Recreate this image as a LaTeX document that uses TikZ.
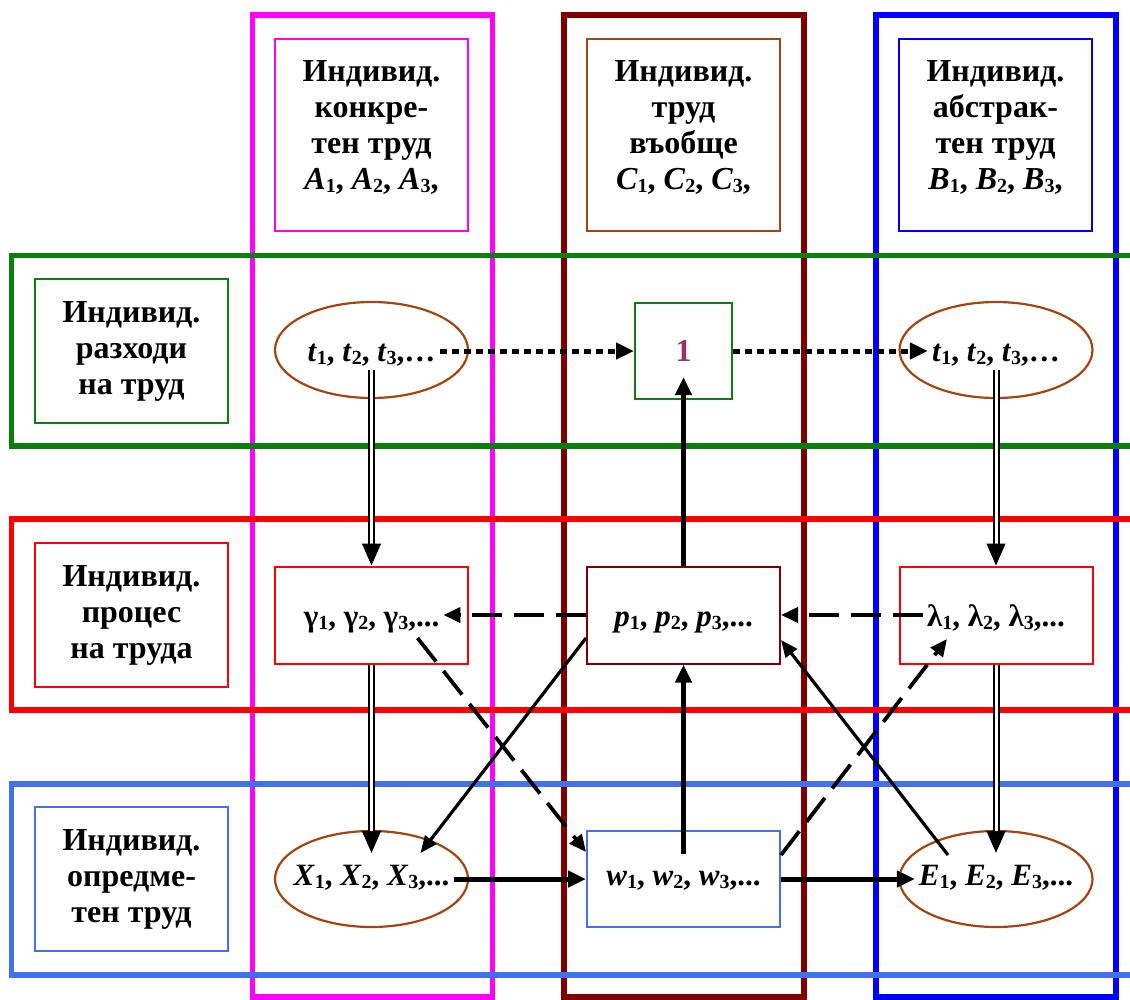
\documentclass[tikz,border=0pt]{standalone}
\usepackage{fontspec}
\setmainfont{Liberation Serif}
\usetikzlibrary{arrows.meta,shapes.geometric}

\definecolor{cMag}{HTML}{FF00FF}
\definecolor{cMar}{HTML}{800000}
\definecolor{cBlu}{HTML}{0000FF}
\definecolor{cGrn}{HTML}{0A800A}
\definecolor{cRed}{HTML}{FF0000}
\definecolor{cSky}{HTML}{4170F0}
\definecolor{cBrn}{HTML}{A4440E}
\definecolor{cOne}{HTML}{993366}

% subscript index and an italic variable with its index
\newcommand\sbs[1]{\raisebox{-0.12em}{\fontsize{20}{20}\selectfont\upshape #1}}
\newcommand\vv[2]{\textit{#1}\sbs{#2}}

\begin{document}
\begin{tikzpicture}[x=1pt,y=-1pt,
  band/.style={line width=5.6pt},
  box/.style={draw, line width=2pt, inner sep=0pt, minimum width=193pt},
  hdr/.style={box, minimum height=192pt},
  rowlab/.style={box, minimum height=144pt, font=\fontsize{32}{36}\selectfont\bfseries, align=center},
  cell/.style={box, minimum height=97pt},
  oval/.style={ellipse, draw=cBrn, line width=2.2pt, minimum width=193pt, minimum height=96pt, inner sep=0pt},
  lab/.style={font=\fontsize{32}{36}\selectfont\bfseries, align=center, inner sep=0pt},
  val/.style={font=\fontsize{31}{36}\selectfont\bfseries, inner sep=4pt, anchor=base},
  tip/.style={-{Triangle[width=16pt,length=18pt]}},
  heavy/.style={tip, line width=5pt},
  dotarrow/.style={tip, line width=5pt, dash pattern=on 7pt off 5pt},
  dasharrow/.style={-{Triangle[width=15pt,length=17pt]}, line width=3.8pt, dash pattern=on 30pt off 12pt},
  thinarrow/.style={-{Triangle[width=14pt,length=17pt]}, line width=3.2pt},
  dbl/.style={double, line width=2pt, double distance=3pt, shorten >=20pt},
  dbltip/.style={-{Triangle[width=19pt,length=22pt]}, line width=1pt},
]
\useasboundingbox (0,0) rectangle (1130,999);

% columns
\draw[band, cMag] (252.5,15) rectangle (492.5,997);
\draw[band, cMar] (564,15) rectangle (804,997);
\draw[band, cBlu] (876,15) rectangle (1116,997);
% rows
\draw[band, cGrn] (11.5,255.5) rectangle (1145,446);
\draw[band, cRed] (11.5,519) rectangle (1145,710);
\draw[band, cSky] (11.5,784) rectangle (1145,975);

% column headers
\node[hdr, draw=cMag] (hA) at (371.5,135) {};
\node[lab] (hAt) at (371.5,127) {Индивид.\\конкре-\\тен труд\\\vv{A}{1}, \vv{A}{2}, \vv{A}{3},};
\node[hdr, draw=cBrn] (hC) at (683.5,135) {};
\node[lab] (hCt) at (683.5,127) {Индивид.\\труд\\въобще\\\vv{C}{1}, \vv{C}{2}, \vv{C}{3},};
\node[hdr, draw=cBlu] (hB) at (995.5,135) {};
\node[lab] (hBt) at (995.5,127) {Индивид.\\абстрак-\\тен труд\\\vv{B}{1}, \vv{B}{2}, \vv{B}{3},};

% row labels
\node[rowlab, draw=cGrn] (rG) at (131.5,351) {Индивид.\\разходи\\на труд};
\node[rowlab, draw=cRed] (rR) at (131.5,615) {Индивид.\\процес\\на труда};
\node[rowlab, draw=cSky] (rB) at (131.5,879) {Индивид.\\опредме-\\тен труд};

% first row
\node[oval] (tL) at (371.5,350) {};
\node[val] (tLt) at (371.5,361) {\vv{t}{1}, \vv{t}{2}, \vv{t}{3},…};
\node[box, draw=cGrn, minimum width=97pt, minimum height=96pt,
      font=\fontsize{32}{36}\selectfont\bfseries, text=cOne] (one) at (683.5,351) {1};
\node[oval] (tR) at (996,350) {};
\node[val] (tRt) at (996,361) {\vv{t}{1}, \vv{t}{2}, \vv{t}{3},…};

% second row
\node[cell, draw=cRed] (g) at (371.5,615) {};
\node[val] (gt) at (371.5,626) {γ\sbs{1}, γ\sbs{2}, γ\sbs{3},...};
\node[cell, draw=cMar] (p) at (683.5,615) {};
\node[val] (pt) at (683.5,626) {\vv{p}{1}, \vv{p}{2}, \vv{p}{3},...};
\node[cell, draw=cRed] (l) at (996,615) {};
\node[val] (lt) at (996,626) {λ\sbs{1}, λ\sbs{2}, λ\sbs{3},...};

% third row
\node[oval] (X) at (371.5,879) {};
\node[val] (Xt) at (371.5,885) {\vv{X}{1}, \vv{X}{2}, \vv{X}{3},...};
\node[cell, draw=cSky, minimum height=96pt] (w) at (683.5,879) {};
\node[val] (wt) at (683.5,885) {\vv{w}{1}, \vv{w}{2}, \vv{w}{3},...};
\node[oval] (E) at (996,879) {};
\node[val] (Et) at (996,885) {\vv{E}{1}, \vv{E}{2}, \vv{E}{3},...};

% inner end points of connectors
\coordinate (oneIn) at ([yshift=23pt]one.south);
\coordinate (wIn) at ([yshift=-24pt]w.north);
\coordinate (XIn) at ([yshift=-23pt]X.north);
\coordinate (EIn) at ([yshift=-23pt]E.north);
\coordinate (gA) at ([shift={(46pt,-23pt)}]g.center);
\coordinate (wA) at ([yshift=27pt]w.west);
\coordinate (pA) at ([yshift=-23pt]p.west);
\coordinate (XA) at ([shift={(49pt,26pt)}]X.center);
\coordinate (wB) at ([yshift=24pt]w.east);
\coordinate (lA) at ([shift={(-49pt,-24pt)}]l.center);
\coordinate (EA) at ([shift={(-48pt,24pt)}]E.center);
\coordinate (pB) at ([yshift=-25pt]p.east);

% dotted arrows through the unit box
\draw[dotarrow] (tLt.east |- one.west) -- (one.west);
\draw[dotarrow] (one.east) -- (one.east -| tRt.west);

% double vertical arrows
\draw[dbl] (tLt.south) -- (g.north);
\draw[dbltip] ([yshift=22pt]g.north) -- (g.north);
\draw[dbl] (tRt.south) -- (l.north);
\draw[dbltip] ([yshift=22pt]l.north) -- (l.north);
\draw[dbl] (g.south) -- (XIn);
\draw[dbltip] ([yshift=22pt]XIn) -- (XIn);
\draw[dbl] (l.south) -- (EIn);
\draw[dbltip] ([yshift=22pt]EIn) -- (EIn);

% central column
\draw[heavy] (p.north) -- (oneIn);
\draw[heavy] (wIn) -- (p.south);

% dashed horizontals
\draw[dasharrow] (p.west) -- (p.west -| gt.east);
\draw[dasharrow] (lt.west |- p.east) -- (p.east);

% bottom row
\draw[heavy] (Xt.east |- w.west) -- (w.west);
\draw[heavy] (w.east) -- (w.east -| Et.west);

% diagonals
\draw[dasharrow] (gA) -- (wA);
\draw[thinarrow] (pA) -- (XA);
\draw[dasharrow] (wB) -- (lA);
\draw[thinarrow] (EA) -- (pB);
\end{tikzpicture}
\end{document}
